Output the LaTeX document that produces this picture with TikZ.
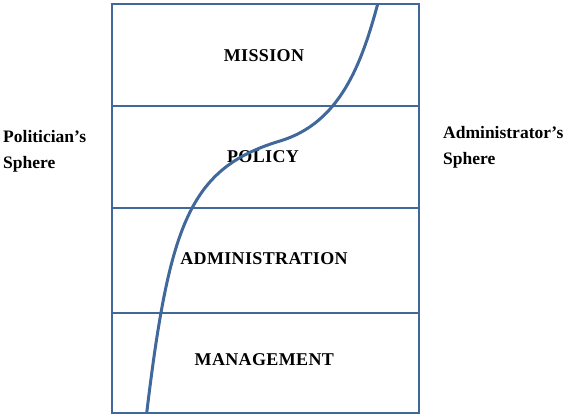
\documentclass[tikz,border=0pt]{standalone}
\usepackage{fontspec}
\setmainfont{Liberation Serif}
\begin{document}
\begin{tikzpicture}[x=1pt,y=1pt,
  frame/.style={draw=steel, line width=2pt},
  sphereline/.style={draw=steel, line width=3pt},
  level/.style={font=\fontsize{18}{22}\selectfont\bfseries\addfontfeature{LetterSpace=2}, inner sep=0pt},
  side/.style={font=\fontsize{17.5}{26}\selectfont\bfseries, align=left, inner sep=0pt, anchor=north west}]
\definecolor{steel}{RGB}{64,104,154}
\useasboundingbox (0,0) rectangle (569,416);
% outer frame and the three dividing rules
\coordinate (tl) at (111.5,412);
\coordinate (br) at (419,2.7);
\draw[frame] (tl) rectangle (br);
\draw[frame] (111.5,310.5) coordinate (d1l) -- (419,310.5) coordinate (d1r);
\draw[frame] (111.5,207.7) coordinate (d2l) -- (419,207.7) coordinate (d2r);
\draw[frame] (111.5,103) coordinate (d3l) -- (419,103) coordinate (d3r);
% level labels
\node[level] (mission) at (264,360) {MISSION};
\node[level] (policy) at (263,259) {POLICY};
\node[level] (admin) at (264,157.3) {ADMINISTRATION};
\node[level] (mgmt) at (264.3,56.3) {MANAGEMENT};
% side labels
\node[side] (pol) at (3,286) {Politician’s\\Sphere};
\node[side] (adm) at (443,290) {Administrator’s\\Sphere};
% dividing curve between the two spheres
\coordinate (cbot) at (146.7,3);
\coordinate (cmid) at (280,275);
\coordinate (ctop) at (377.7,412);
\draw[sphereline] (cbot) .. controls (169.5,193) and (190,248) .. (cmid)
  .. controls (340,293) and (361.5,352) .. (ctop);
\end{tikzpicture}
\end{document}
